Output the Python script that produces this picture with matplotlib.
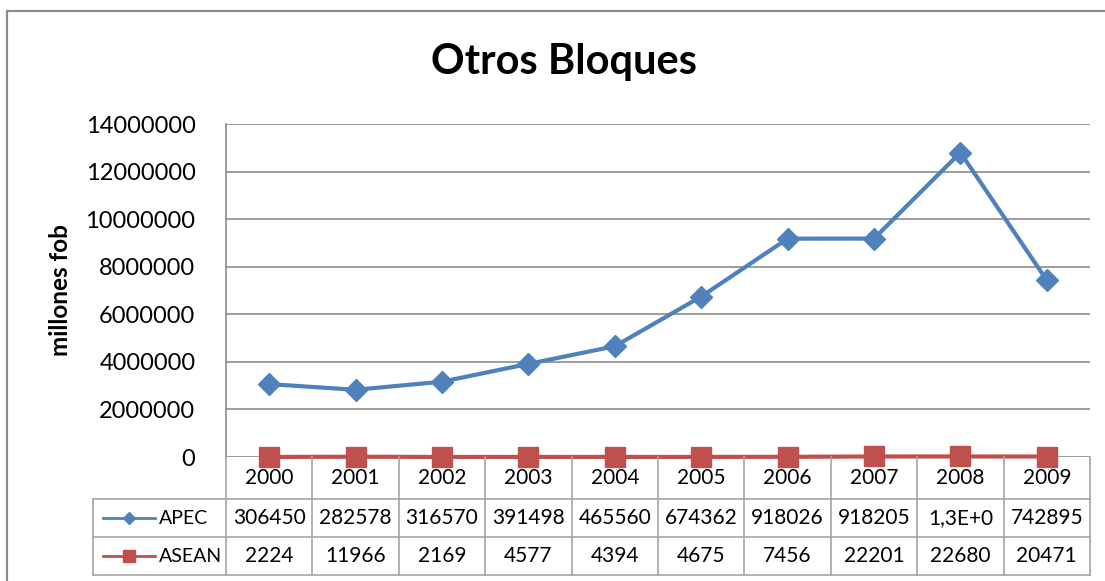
import matplotlib.pyplot as plt
from matplotlib.patches import Rectangle
from matplotlib.ticker import StrMethodFormatter

plt.rcParams['font.family'] = ['Lato', 'DejaVu Sans']

# datos
years = ["2000", "2001", "2002", "2003", "2004", "2005", "2006", "2007", "2008", "2009"]
apec = [3064500, 2825780, 3165700, 3914980, 4655600, 6743620, 9180260, 9182050, 12800000, 7428950]
asean = [2224, 11966, 2169, 4577, 4394, 4675, 7456, 22201, 22680, 20471]
apec_labels = ["306450", "282578", "316570", "391498", "465560", "674362", "918026", "918205", "1,3E+0", "742895"]
asean_labels = ["2224", "11966", "2169", "4577", "4394", "4675", "7456", "22201", "22680", "20471"]

BLUE = "#4F81BD"
RED = "#C0504D"
GRID = "#8C8C8C"
TAB = "#A6A6A6"

W, H = 1105, 581
fig = plt.figure(figsize=(W / 100, H / 100), dpi=100)

# marco exterior
fig.add_artist(Rectangle((7 / W, -0.1), 1.2, 1 - 11 / H + 0.1, transform=fig.transFigure,
                         fill=False, edgecolor="#8A8A8A", lw=1.6))

fig.text(564 / W, 1 - 62 / H, "Otros Bloques", ha="center", va="center",
         fontsize=30, fontweight="bold")

# grafico principal
ax = fig.add_axes([226 / W, 1 - 457 / H, (1090 - 226) / W, (457 - 124) / H])
x = list(range(len(years)))
ax.set_xlim(-0.5, len(years) - 0.5)
ax.set_ylim(0, 14000000)
ax.set_yticks(range(0, 14000001, 2000000))
ax.yaxis.set_major_formatter(StrMethodFormatter("{x:.0f}"))
ax.yaxis.grid(True, color=GRID, lw=1.2)
ax.set_axisbelow(True)
ax.set_xticks([])
for s in ["top", "right", "bottom"]:
    ax.spines[s].set_visible(False)
ax.spines["left"].set_color(GRID)
ax.spines["left"].set_linewidth(1.2)
ax.tick_params(axis="y", length=0, pad=22, labelsize=17)

ax.plot(x, apec, color=BLUE, lw=3, marker="D", markersize=11, clip_on=False, zorder=5)
ax.plot(x, asean, color=RED, lw=3, marker="s", markersize=15, clip_on=False, zorder=6)

fig.text(60 / W, 1 - 290 / H, "millones fob", rotation=90, ha="center", va="center",
         fontsize=17.5, fontweight="bold")

# tabla de datos
step = (1090 - 226) / len(years)
xl = -0.5 - (226 - 93) / step
tab = fig.add_axes([93 / W, 1 - 575 / H, (1090 - 93) / W, (575 - 457) / H])
tab.set_xlim(xl, len(years) - 0.5)
tab.set_ylim(575, 457)
tab.axis("off")
rows = [457, 499, 537, 575]
for i in range(len(years) + 1):
    tab.plot([i - 0.5, i - 0.5], [457, 575], color=TAB, lw=1.2, clip_on=False)
tab.plot([xl, xl], [499, 575], color=TAB, lw=1.2, clip_on=False)
for r in rows[1:]:
    tab.plot([xl, len(years) - 0.5], [r, r], color=TAB, lw=1.2, clip_on=False)

for i in x:
    tab.text(i, 478, years[i], ha="center", va="center", fontsize=15)
    tab.text(i, 518, apec_labels[i], ha="center", va="center", fontsize=15)
    tab.text(i, 556, asean_labels[i], ha="center", va="center", fontsize=15)

k0 = -0.5 + (103 - 226) / step
k1 = -0.5 + (155 - 226) / step
kt = -0.5 + (159 - 226) / step
tab.plot([k0, k1], [518, 518], color=BLUE, lw=2)
tab.plot([(k0 + k1) / 2], [518], color=BLUE, marker="D", markersize=6)
tab.text(kt, 518, "APEC", ha="left", va="center", fontsize=14)
tab.plot([k0, k1], [556, 556], color=RED, lw=2)
tab.plot([(k0 + k1) / 2], [556], color=RED, marker="s", markersize=9)
tab.text(kt, 556, "ASEAN", ha="left", va="center", fontsize=14)

fig.savefig("out.png", dpi=100)
